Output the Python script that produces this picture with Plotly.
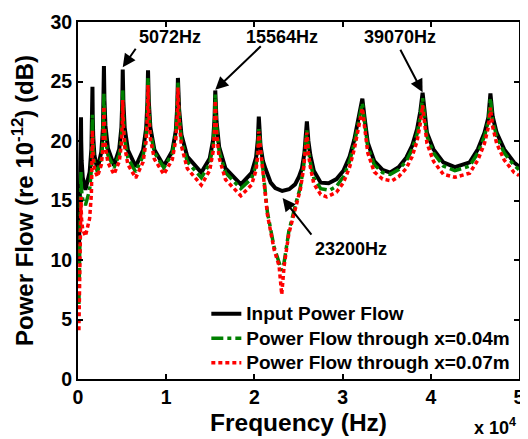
import plotly.graph_objects as go

# ---------------- data ----------------
freq_input = [100, 200, 290, 340,
    365, 415, 540, 840, 1320, 1520, 1600,
    1640, 1668, 1724, 1864, 2200, 2644, 2829, 2903,
    2940, 2997, 3111, 3396, 4080, 4675, 4923, 5022,
    5072, 5145, 5292, 5659, 6540, 7380, 7730, 7870,
    7940, 8030, 8209, 8656, 9730, 10690, 11090, 11250,
    11330, 11463, 11728, 12390, 13980, 14930, 15326, 15485,
    15564, 15709, 16000, 16722, 18460, 19684, 20194, 20398,
    20500, 20694, 20974, 21287, 21847, 22372, 23155, 23938, 24609, 25057, 25392, 25672,
    25950, 26120, 26343, 26735, 27518, 28413, 29308, 30091, 30795, 31321, 31656, 31936,
    32240, 32473, 32853, 33592, 34532, 35400, 36355, 37217, 37888, 38447, 38816,
    39070, 39318, 39564, 40303, 41422, 42731, 44409, 45337, 46087, 46534,
    46760, 47016, 47463, 48324, 49443, 50000]
power_input = [10.0, 16.0, 20.5, 22.0,
    20.0, 18.34, 16.94, 15.9, 17.37, 19.36, 21.7,
    24.55, 22.26, 20.38, 18.78, 17.6, 19.08, 21.08, 23.43,
    26.3, 23.54, 21.29, 19.37, 17.95, 19.32, 21.17, 23.34,
    26.0, 23.31, 21.11, 19.24, 17.85, 19.23, 21.09, 23.28,
    25.95, 23.29, 21.12, 19.27, 17.9, 19.16, 20.86, 22.86,
    25.3, 22.68, 20.53, 18.7, 17.35, 18.52, 20.11, 21.97,
    24.25, 21.64, 19.51, 17.69, 16.35, 17.32, 18.63, 20.17,
    22.05, 19.6, 18.3, 17.6, 16.5, 16.05, 15.8, 15.95, 16.35, 17.0, 17.7, 19.0,
    21.65, 20.0, 18.8, 17.5, 16.5, 16.45, 16.8, 17.5, 18.7, 20.1, 21.3, 22.5,
    23.55, 22.05, 19.85, 18.3, 17.57, 17.35, 17.8, 18.6, 19.6, 21.0, 22.5,
    24.05, 22.0, 20.7, 19.3, 18.2, 17.8, 18.2, 19.3, 20.7, 22.0,
    24.0, 22.05, 20.7, 19.3, 18.2, 17.85]

freq_x004 = [100, 200, 290, 340,
    365, 415, 540, 840, 1320, 1520, 1600,
    1640, 1668, 1724, 1864, 2200, 2644, 2829, 2903,
    2940, 2997, 3111, 3396, 4080, 4675, 4923, 5022,
    5072, 5145, 5292, 5659, 6540, 7380, 7730, 7870,
    7940, 8030, 8209, 8656, 9730, 10690, 11090, 11250,
    11330, 11463, 11728, 12390, 13980, 14930, 15326, 15485,
    15564, 15709, 16000, 16722, 18460, 19684, 20194, 20398,
    20500, 20700, 20918, 21478, 22227, 22800, 23100, 23370, 23900, 24643, 25202, 25583, 25800,
    25950, 26120, 26343, 26735, 27518, 28525, 29308, 30091, 30795, 31321, 31656, 31936,
    32240, 32473, 32853, 33592, 34532, 35400, 36355, 37217, 37888, 38447, 38816,
    39070, 39318, 39564, 40303, 41422, 42731, 44409, 45337, 46087, 46534,
    46760, 47016, 47463, 48324, 49443, 50000]
power_x004 = [6.3, 11.0, 15.5, 17.5,
    16.54, 15.76, 15.09, 14.6, 15.9, 17.64, 19.7,
    22.2, 20.62, 19.32, 18.22, 17.4, 18.52, 20.04, 21.82,
    24.0, 21.94, 20.25, 18.81, 17.75, 18.86, 20.37, 22.14,
    24.3, 22.02, 20.16, 18.57, 17.4, 18.74, 20.56, 22.69,
    25.3, 22.81, 20.77, 19.03, 17.75, 18.97, 20.61, 22.54,
    24.9, 22.26, 20.1, 18.26, 16.9, 18.09, 19.7, 21.59,
    23.9, 21.29, 19.16, 17.34, 16.0, 16.85, 18.0, 19.35,
    21.0, 19.5, 17.9, 14.0, 11.1, 9.9, 9.1, 9.8, 12.4, 14.6, 16.1, 17.9, 19.3,
    20.9, 19.3, 18.2, 16.9, 16.0, 15.85, 16.2, 17.0, 18.3, 19.8, 21.0, 22.2,
    23.2, 21.7, 19.5, 18.0, 17.35, 17.2, 17.6, 18.3, 19.3, 20.6, 22.1,
    23.6, 21.8, 20.4, 19.0, 17.9, 17.5, 17.9, 19.0, 20.4, 21.7,
    23.6, 21.7, 20.4, 19.0, 17.95, 17.6]

freq_x007 = [100, 200, 290, 340,
    365, 415, 540, 840, 1320, 1520, 1600,
    1640, 1668, 1724, 1864, 2200, 2644, 2829, 2903,
    2940, 2997, 3111, 3396, 4080, 4675, 4923, 5022,
    5072, 5145, 5292, 5659, 6540, 7380, 7730, 7870,
    7940, 8030, 8209, 8656, 9730, 10690, 11090, 11250,
    11330, 11463, 11728, 12390, 13980, 14930, 15326, 15485,
    15564, 15709, 16000, 16722, 18460, 19684, 20194, 20398,
    20500, 20700, 20918, 21478, 22227, 22800, 23100, 23370, 23900, 24643, 25202, 25583, 25800,
    25950, 26120, 26343, 26735, 27518, 28190, 29308, 30091, 30795, 31321, 31656, 31936,
    32240, 32473, 32853, 33592, 34532, 35587, 36355, 37217, 37888, 38447, 38816,
    39070, 39318, 39564, 40303, 41422, 42731, 44409, 45337, 46087, 46534,
    46760, 47016, 47463, 48324, 49443, 50000]
power_x007 = [4.1, 9.0, 13.5, 15.3,
    14.2, 13.3, 12.56, 12.0, 13.5, 15.56, 17.96,
    20.9, 19.61, 18.56, 17.66, 17.0, 18.0, 19.36, 20.95,
    22.9, 21.02, 19.48, 18.17, 17.2, 18.26, 19.7, 21.39,
    23.45, 21.29, 19.52, 18.01, 16.9, 18.23, 20.02, 22.13,
    24.7, 22.23, 20.2, 18.48, 17.2, 18.44, 20.12, 22.09,
    24.5, 21.79, 19.58, 17.69, 16.3, 17.51, 19.14, 21.06,
    23.4, 20.76, 18.6, 16.76, 15.4, 16.32, 17.56, 19.02,
    20.8, 19.3, 17.7, 13.8, 10.9, 9.5, 7.1, 9.5, 12.2, 14.4, 15.9, 17.7, 19.1,
    20.7, 19.0, 17.8, 16.4, 15.5, 15.3, 15.7, 16.5, 17.8, 19.3, 20.6, 21.7,
    22.75, 21.3, 19.0, 17.4, 16.8, 16.65, 17.0, 17.7, 18.7, 20.0, 21.5,
    23.0, 21.2, 19.8, 18.3, 17.2, 16.95, 17.3, 18.4, 19.8, 21.2,
    22.8, 21.2, 19.8, 18.4, 17.35, 17.1]

series_names = ["Input Power Flow",
                "Power Flow through x=0.04m",
                "Power Flow through x=0.07m"]

x_tickvals = [0, 10000, 20000, 30000, 40000, 50000]
x_ticktext = ["0", "1", "2", "3", "4", "5"]
y_tickvals = [0, 5, 10, 15, 20, 25, 30]

# annotated frequencies: (label, arrow head freq, arrow head dB)
peak_labels = ["5072Hz", "15564Hz", "39070Hz", "23200Hz"]
peak_freqs = [5072, 15564, 39070, 23200]
peak_levels = [26.2, 24.3, 24.1, 15.2]

FONT = "Liberation Sans, Arial, sans-serif"
LEG_SPAN = '<span style="font-size:19px">{}</span>'

fig = go.Figure()
fig.add_trace(go.Scatter(x=freq_input, y=power_input, mode="lines",
                         name=LEG_SPAN.format(series_names[0]),
                         line=dict(color="#000000", width=4)))
fig.add_trace(go.Scatter(x=freq_x004, y=power_x004, mode="lines",
                         name=LEG_SPAN.format(series_names[1]),
                         line=dict(color="#008000", width=3.5, dash="12px,4px,4px,4px")))
fig.add_trace(go.Scatter(x=freq_x007, y=power_x007, mode="lines",
                         name=LEG_SPAN.format(series_names[2]),
                         line=dict(color="#FF0000", width=3.5, dash="4px,3px")))

# arrows (head at the data point, tail offset in pixels)
arrow_offsets = [(14, -20), (47, -45), (-23, -44), (30, 38)]
for f, lv, (ax, ay) in zip(peak_freqs, peak_levels, arrow_offsets):
    fig.add_annotation(x=f, y=lv, text="", showarrow=True, ax=ax, ay=ay,
                       arrowhead=2, arrowsize=1.3, arrowwidth=2, arrowcolor="#000000",
                       standoff=0)

# label texts
label_pos = [(10403, 28.74), (23155, 28.74), (36466, 28.74), (30985, 10.96)]
for t, (lx, ly) in zip(peak_labels, label_pos):
    fig.add_annotation(x=lx, y=ly, text=t, showarrow=False,
                       font=dict(family=FONT, size=18, color="#000000", weight="bold"))

fig.add_annotation(xref="paper", yref="paper", x=0.893, y=-0.134,
                   xanchor="left", yanchor="middle", showarrow=False,
                   text="x 10<sup>4</sup>",
                   font=dict(family=FONT, size=18, color="#000000", weight="bold"))

axis_common = dict(showline=True, linecolor="#000000", linewidth=2, mirror="ticks",
                   ticks="inside", ticklen=5, tickwidth=1.5, tickcolor="#000000",
                   showgrid=False, zeroline=False, ticklabeloverflow="allow",
                   tickfont=dict(family=FONT, size=19.5, color="#000000", weight="bold"))

# page body has an 8px margin, so the figure is 8px smaller than the window
fig.update_layout(
    width=520, height=431,
    margin=dict(l=70, r=3, t=10, b=60),
    paper_bgcolor="white", plot_bgcolor="white",
    font=dict(family=FONT, color="#000000", weight="bold"),
    xaxis=dict(range=[0, 50000], tickvals=x_tickvals, ticktext=x_ticktext,
               title=dict(text="Frequency (Hz)", standoff=6,
                          font=dict(family=FONT, size=24.5, weight="bold")),
               **axis_common),
    yaxis=dict(range=[0, 30], tickvals=y_tickvals,
               title=dict(text="Power Flow (re 10<sup>-12</sup>) (dB)", standoff=10,
                          font=dict(family=FONT, size=24, weight="bold")),
               **axis_common),
    legend=dict(x=0.291, y=0.231, xanchor="left", yanchor="top",
                bgcolor="rgba(0,0,0,0)", borderwidth=0,
                font=dict(family=FONT, size=16.5, color="#000000", weight="bold"),
                tracegroupgap=0),
    showlegend=True,
)

fig.write_html("out.html")
